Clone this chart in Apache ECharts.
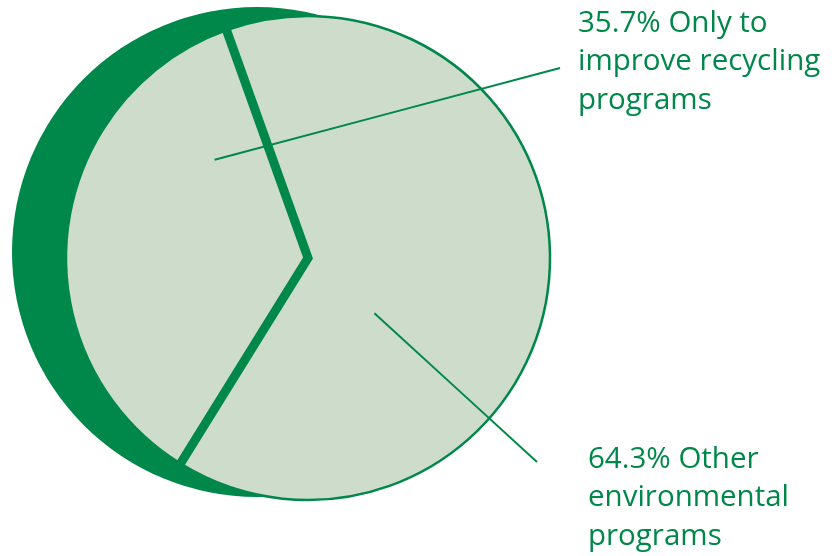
<!DOCTYPE html>
<html>
<head>
<meta charset="utf-8">
<script src="https://cdn.jsdelivr.net/npm/echarts@6/dist/echarts.min.js"></script>
<style>
  html, body { margin: 0; padding: 0; background: #ffffff; }
  #chart { width: 832px; height: 556px; }
</style>
</head>
<body>
<div id="chart"></div>
<script>
// Survey shares (percent)
const categories = ['Only to\nimprove recycling\nprograms', 'Other\nenvironmental\nprograms'];
const shares = [35.7, 64.3];

// Palette and layout
const DARK = '#00874a';
const FACE = '#cddccb';
const CENTER = [308, 258];
const R = 242;
const START_ANGLE = 238.2;          // ECharts degrees (counter-clockwise from 3 o'clock)
const SIDE_CENTER = [257, 252];     // offset disc that shows the pie's thickness
const SIDE_R = 245;

// Leader line styling per slice: where it starts inside the slice, where it ends, where the text sits
const LEADERS = [
  { turn: 40.4, depth: 0.56, end: [560, 68], text: [578, 4] },
  { turn: 33.7, depth: 0.357, end: [537, 462], text: [588, 440] }
];

const total = shares.reduce((a, b) => a + b, 0);
const bounds = [];
shares.reduce((acc, v) => { bounds.push(acc); return acc + v; }, 0);

// Separator polyline in polar coordinates: rim -> centre -> rim, at the slice boundaries
const separator = [[1, bounds[0]], [0, bounds[0]], [1, bounds[1]]];

const sliceData = shares.map((v, i) => ({ value: v, name: categories[i] }));

const chart = echarts.init(document.getElementById('chart'), null, { renderer: 'canvas' });

chart.setOption({
  animation: false,
  backgroundColor: '#ffffff',
  polar: { center: CENTER, radius: R },
  angleAxis: {
    type: 'value', min: 0, max: total, startAngle: START_ANGLE, clockwise: true,
    axisLine: { show: false }, axisTick: { show: false },
    axisLabel: { show: false }, splitLine: { show: false }
  },
  radiusAxis: {
    type: 'value', min: 0, max: 1,
    axisLine: { show: false }, axisTick: { show: false },
    axisLabel: { show: false }, splitLine: { show: false }
  },
  series: [
    {
      // side of the disc, peeking out on the left
      type: 'pie',
      name: 'side',
      silent: true,
      z: 1,
      center: SIDE_CENTER,
      radius: SIDE_R,
      data: [{ value: total, name: 'side' }],
      itemStyle: { color: DARK },
      label: { show: false },
      labelLine: { show: false }
    },
    {
      // face of the pie
      type: 'pie',
      name: 'shares',
      silent: true,
      z: 2,
      center: CENTER,
      radius: R,
      startAngle: START_ANGLE,
      clockwise: true,
      data: sliceData,
      itemStyle: { color: FACE, borderColor: DARK, borderWidth: 2.5 },
      label: { show: false },
      labelLine: { show: false }
    },
    {
      // thick dividers between the slices
      type: 'line',
      name: 'separator',
      coordinateSystem: 'polar',
      silent: true,
      z: 3,
      data: separator,
      symbol: 'none',
      lineStyle: { color: DARK, width: 9, join: 'miter' }
    },
    {
      // transparent copy of the slices carrying the labels and leader lines on top
      type: 'pie',
      name: 'labels',
      silent: true,
      z: 4,
      center: CENTER,
      radius: R,
      startAngle: START_ANGLE,
      clockwise: true,
      avoidLabelOverlap: false,
      data: sliceData,
      itemStyle: { color: 'rgba(0,0,0,0)', borderWidth: 0 },
      label: {
        show: true,
        formatter: p => p.value.toFixed(1) + '% ' + p.name,
        color: DARK,
        fontFamily: 'Open Sans',
        fontSize: 29.5,
        lineHeight: 38.5
      },
      labelLine: { show: true, lineStyle: { color: DARK, width: 2 } },
      labelLayout: function (params) {
        const i = params.dataIndex;
        const spec = LEADERS[i];
        const startCw = 90 - START_ANGLE;
        const midCw = startCw + (bounds[i] + shares[i] / 2) / total * 360 + spec.turn;
        const rad = midCw * Math.PI / 180;
        const sx = CENTER[0] + R * spec.depth * Math.sin(rad);
        const sy = CENTER[1] - R * spec.depth * Math.cos(rad);
        const mx = (sx + spec.end[0]) / 2;
        const my = (sy + spec.end[1]) / 2;
        return {
          x: spec.text[0], y: spec.text[1],
          align: 'left', verticalAlign: 'top',
          labelLinePoints: [[sx, sy], [mx, my], spec.end]
        };
      }
    }
  ]
});
</script>
</body>
</html>
